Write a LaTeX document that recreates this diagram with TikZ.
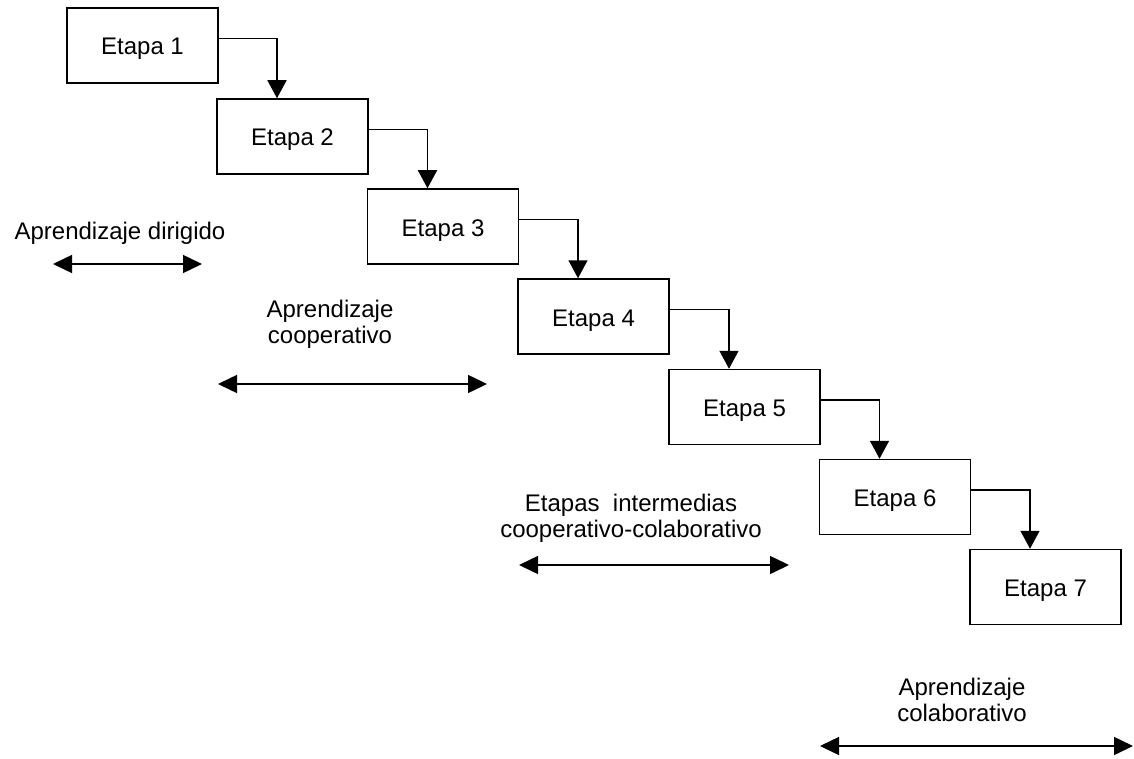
\documentclass[tikz,border=0pt]{standalone}
\usepackage{fontspec}
\setmainfont{Liberation Sans}
\usetikzlibrary{arrows.meta}

\begin{document}
\begin{tikzpicture}[x=0.5pt,y=-0.5pt,font=\fontsize{12}{13}\selectfont,
    etapa/.style={draw,line width=0.75pt,minimum width=75.5pt,minimum height=37.5pt,inner sep=0pt,text height=10pt,text depth=0.5pt},
    paso/.style={line width=0.75pt,-{Triangle[width=9.5pt,length=9pt]}},
    rango/.style={line width=0.75pt,{Triangle[width=9pt,length=9.5pt]}-{Triangle[width=9pt,length=9.5pt]}},
    rotulo/.style={align=center,inner sep=0pt}]
\useasboundingbox (0,0) rectangle (1134,759);
% etapas
\node[etapa] (e1) at (142.5,45.5) {Etapa 1};
\node[etapa] (e2) at (292.5,136.5) {Etapa 2};
\node[etapa] (e3) at (443,226.5) {Etapa 3};
\node[etapa] (e4) at (593.5,316.5) {Etapa 4};
\node[etapa] (e5) at (744.5,407) {Etapa 5};
\node[etapa] (e6) at (895,497) {Etapa 6};
\node[etapa] (e7) at (1045.5,587) {Etapa 7};
\foreach \i/\j in {1/2,2/3,3/4,4/5,5/6,6/7}
    \draw[paso] ([yshift=3.5pt]e\i.east) -| ([xshift=-7.75pt]e\j.north);
% tipos de aprendizaje
\node[rotulo] (dirigido) at (120,233) {Aprendizaje dirigido};
\coordinate (dirigidoA) at (53,264);
\coordinate (dirigidoB) at (202,264);
\draw[rango] (dirigidoA) -- (dirigidoB);
\node[rotulo] (cooperativo) at (330,324) {Aprendizaje\\cooperativo};
\coordinate (cooperativoA) at (218,384);
\coordinate (cooperativoB) at (487,384);
\draw[rango] (cooperativoA) -- (cooperativoB);
\node[rotulo] (intermedias) at (631,518) {Etapas\ \ intermedias\\cooperativo-colaborativo};
\coordinate (intermediasA) at (519,565);
\coordinate (intermediasB) at (789,565);
\draw[rango] (intermediasA) -- (intermediasB);
\node[rotulo] (colaborativo) at (962,700) {Aprendizaje\\colaborativo};
\coordinate (colaborativoA) at (820,746);
\coordinate (colaborativoB) at (1133,746);
\draw[rango] (colaborativoA) -- (colaborativoB);
\end{tikzpicture}
\end{document}
